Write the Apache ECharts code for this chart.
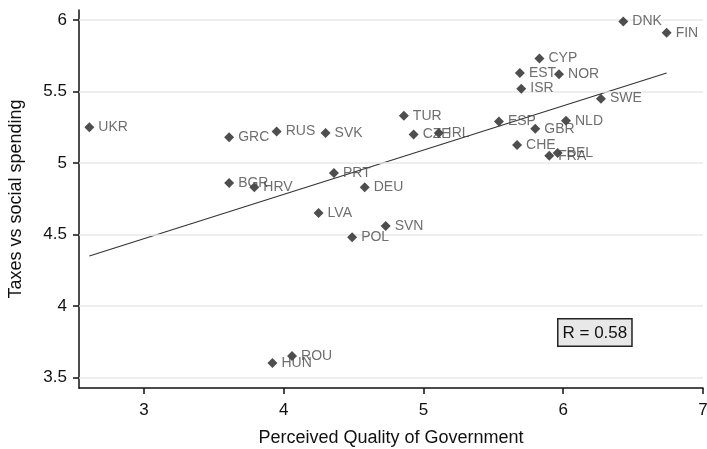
<!DOCTYPE html>
<html><head><meta charset="utf-8">
<script src="https://cdn.jsdelivr.net/npm/echarts@6/dist/echarts.min.js"></script>
<style>html,body{margin:0;padding:0;background:#fff}#c{width:707px;height:449px}</style>
</head><body><div id="c"></div>
<script>
const countries = ["DNK","FIN","CYP","EST","NOR","ISR","SWE","ESP","NLD","GBR","CHE","FRA","BEL","TUR","CZE","IRL","GRC","RUS","SVK","BGR","HRV","PRT","DEU","LVA","SVN","POL","HUN","ROU","UKR"];
const qualityGov = [6.43,6.74,5.83,5.69,5.97,5.70,6.27,5.54,6.02,5.80,5.67,5.90,5.96,4.86,4.93,5.11,3.61,3.95,4.30,3.61,3.79,4.36,4.58,4.25,4.73,4.49,3.92,4.06,2.61];
const taxesSocial = [5.99,5.91,5.73,5.63,5.62,5.52,5.45,5.29,5.295,5.24,5.125,5.05,5.07,5.33,5.20,5.21,5.18,5.22,5.21,4.86,4.83,4.93,4.83,4.65,4.56,4.48,3.60,3.65,5.25];
const fitX = [2.61, 6.74];
const fitY = [4.35, 5.63];
const xTicks = [3,4,5,6,7];
const yTicks = [3.5,4,4.5,5,5.5,6];
const rText = "R = 0.58";

const chart = echarts.init(document.getElementById('c'));
const pts = countries.map((c,i)=>({value:[qualityGov[i],taxesSocial[i]],name:c}));
const font = 'Liberation Sans, Arial, sans-serif';
chart.setOption({
  animation:false,
  grid:{left:79,right:4,top:10,bottom:61,containLabel:false,outerBoundsMode:'none'},
  xAxis:{type:'value',min:2.536,max:7,
    name:'Perceived Quality of Government',nameLocation:'middle',nameGap:41,
    nameTextStyle:{color:'#111',fontSize:18,fontFamily:font},
    axisLine:{show:true,onZero:false,lineStyle:{color:'#111',width:1.5}},
    axisTick:{show:true,customValues:xTicks,length:6,lineStyle:{color:'#111',width:1.5}},
    axisLabel:{customValues:xTicks,color:'#111',fontSize:17,fontFamily:font,margin:14,formatter:v=>String(v)},
    splitLine:{show:false}},
  yAxis:{type:'value',min:3.426,max:6.07,
    name:'Taxes vs social spending',nameLocation:'middle',nameGap:54,
    nameTextStyle:{color:'#111',fontSize:18,fontFamily:font},
    axisLine:{show:true,onZero:false,lineStyle:{color:'#111',width:1.5}},
    axisTick:{show:true,customValues:yTicks,length:6,lineStyle:{color:'#111',width:1.5}},
    axisLabel:{customValues:yTicks,color:'#111',fontSize:17,fontFamily:font,margin:12,formatter:v=>String(v)},
    splitLine:{show:false}},
  series:[
    {type:'line',data:yTicks.map(v=>[xTicks[0],v]),symbol:'none',lineStyle:{opacity:0},silent:true,
      markLine:{silent:true,symbol:'none',label:{show:false},lineStyle:{color:'#e8e8e8',width:1.5,type:'solid'},
        data:yTicks.map(v=>({yAxis:v}))}},
    {type:'line',data:fitX.map((x,i)=>[x,fitY[i]]),symbol:'none',lineStyle:{color:'#333',width:1.1},z:3},
    {type:'scatter',data:pts,symbol:'diamond',symbolSize:10,itemStyle:{color:'#222'},z:5,
      label:{show:true,position:'right',distance:4,formatter:p=>p.name,color:'#4a4a4a',fontSize:14,fontFamily:font}}
  ],
  graphic:[{type:'text',left:557,top:318,z:10,
    style:{text:rText,fontSize:17,fontFamily:font,fill:'#111',backgroundColor:'#e8e8e8',
      borderColor:'#222',borderWidth:1.5,padding:[5,4,4,4]}}]
});
</script></body></html>
